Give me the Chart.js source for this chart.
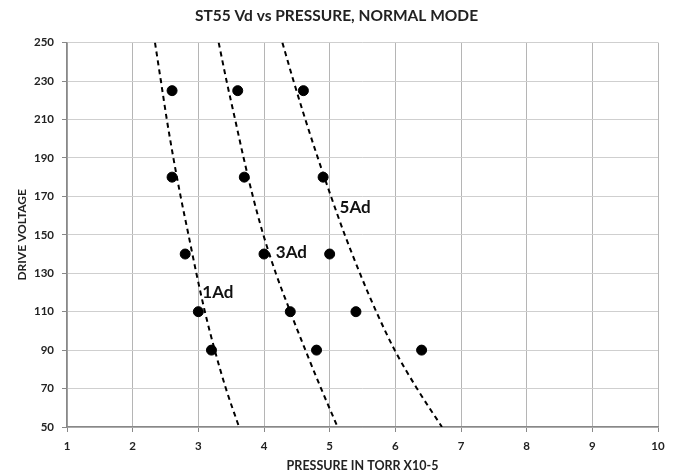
<!DOCTYPE html>
<html>
<head>
<meta charset="utf-8">
<script src="https://cdn.jsdelivr.net/npm/chart.js@4.4.0/dist/chart.umd.min.js"></script>
<style>
  html, body { margin: 0; padding: 0; background: #fff; }
  #wrap { width: 680px; height: 474px; }
</style>
</head>
<body>
<div id="wrap"><canvas id="myChart" width="680" height="474"></canvas></div>
<script>
// measured points (pressure, drive voltage)
const volts = [225, 180, 140, 110, 90];
const press1Ad = [2.6, 2.6, 2.8, 3.0, 3.2];
const press3Ad = [3.6, 3.7, 4.0, 4.4, 4.8];
const press5Ad = [4.6, 4.9, 5.0, 5.4, 6.4];

// dashed trend curves at each grid line
const trendVolts = [250, 230, 210, 190, 170, 150, 130, 110, 90, 70, 50];
const trend1Ad = [2.34, 2.43, 2.52, 2.62, 2.73, 2.85, 2.97, 3.10, 3.25, 3.42, 3.62];
const trend3Ad = [3.31, 3.43, 3.56, 3.69, 3.83, 3.99, 4.18, 4.40, 4.63, 4.87, 5.12];
const trend5Ad = [4.28, 4.45, 4.63, 4.82, 5.02, 5.23, 5.46, 5.71, 5.99, 6.33, 6.71];

const curveLabels = ['1Ad', '3Ad', '5Ad'];
const labelSpots = [[3.06, 120], [4.18, 141], [5.15, 164]];

const FONT = "Lato, 'Open Sans', sans-serif";

const pts = (xs, ys) => xs.map((x, i) => ({ x: x, y: ys[i] }));

const pointSet = (data) => ({
    type: 'scatter',
    data: data,
    backgroundColor: '#000',
    borderColor: '#000',
    pointRadius: 5,
    pointHoverRadius: 5,
    showLine: false
});

const trendSet = (data) => ({
    type: 'line',
    data: data,
    borderColor: '#000',
    borderWidth: 2,
    borderDash: [5, 4],
    pointRadius: 0,
    fill: false,
    cubicInterpolationMode: 'monotone'
});

const curveText = {
    id: 'curveText',
    afterDatasetsDraw(chart) {
        const ctx = chart.ctx;
        const xs = chart.scales.x, ys = chart.scales.y;
        ctx.save();
        ctx.font = "bold 17px " + FONT;
        ctx.fillStyle = '#111';
        ctx.textAlign = 'left';
        ctx.textBaseline = 'middle';
        curveLabels.forEach((t, i) => {
            ctx.fillText(t, xs.getPixelForValue(labelSpots[i][0]), ys.getPixelForValue(labelSpots[i][1]));
        });
        ctx.restore();
    }
};

new Chart(document.getElementById('myChart'), {
    type: 'scatter',
    data: {
        datasets: [
            pointSet(pts(press1Ad, volts)),
            pointSet(pts(press3Ad, volts)),
            pointSet(pts(press5Ad, volts)),
            trendSet(pts(trend1Ad, trendVolts)),
            trendSet(pts(trend3Ad, trendVolts)),
            trendSet(pts(trend5Ad, trendVolts))
        ]
    },
    plugins: [curveText],
    options: {
        responsive: false,
        animation: false,
        layout: { padding: { left: 15, right: 22, top: 0, bottom: 1 } },
        plugins: {
            legend: { display: false },
            tooltip: { enabled: false },
            title: {
                display: true,
                text: 'ST55 Vd vs PRESSURE, NORMAL MODE',
                color: '#222',
                font: { family: FONT, size: 15.5, weight: 'bold' },
                padding: { top: 7, bottom: 17 }
            }
        },
        scales: {
            x: {
                type: 'linear',
                min: 1,
                max: 10,
                afterFit: (scale) => { scale.height = 46; },
                ticks: { stepSize: 1, color: '#222', font: { family: FONT, size: 11.5, weight: 'bold' }, padding: 7 },
                grid: { color: '#b5b5b5', tickLength: 5, tickColor: '#888' },
                border: { color: '#888', width: 1.5 },
                title: {
                    display: true,
                    text: 'PRESSURE IN TORR X10-5',
                    color: '#222',
                    font: { family: FONT, size: 12.5, weight: 'bold' },
                    padding: { top: 0, bottom: 0 }
                }
            },
            y: {
                min: 50,
                max: 250,
                afterFit: (scale) => { scale.width = 52; },
                ticks: { stepSize: 20, color: '#222', font: { family: FONT, size: 11.5, weight: 'bold' }, padding: 8 },
                grid: { color: '#cfcfcf', tickLength: 5, tickColor: '#888' },
                border: { color: '#888', width: 1.5 },
                title: {
                    display: true,
                    text: 'DRIVE VOLTAGE',
                    color: '#222',
                    font: { family: FONT, size: 12, weight: 'bold' },
                    padding: { top: 0, bottom: 1 }
                }
            }
        }
    }
});
</script>
</body>
</html>
